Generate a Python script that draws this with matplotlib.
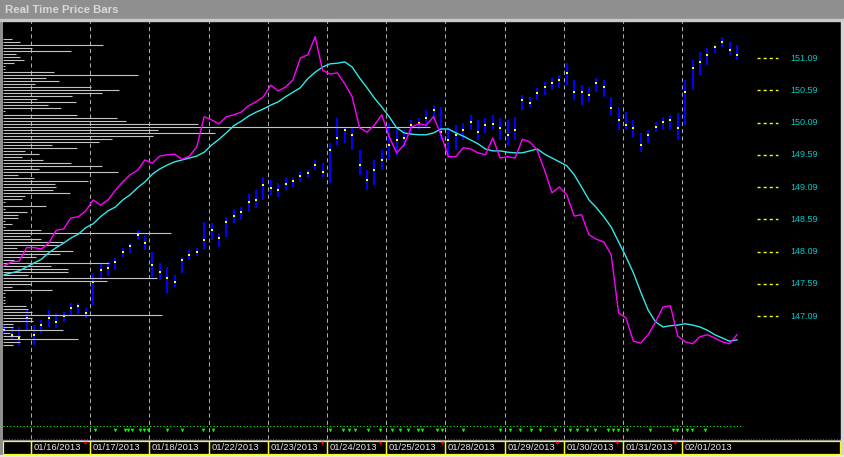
import matplotlib
matplotlib.use("Agg")
import matplotlib.pyplot as plt
import numpy as np
from matplotlib.patches import Rectangle

plt.rcParams['font.family'] = ['Liberation Sans', 'DejaVu Sans']

# ── Datos ─────────────────────────────────────────────────────────────────────
dias = ["01/16/2013", "01/17/2013", "01/18/2013", "01/22/2013", "01/23/2013",
        "01/24/2013", "01/25/2013", "01/28/2013", "01/29/2013", "01/30/2013",
        "01/31/2013", "02/01/2013"]

maximos = [146.98, 146.92, 146.92, 147.18, 146.95, 147.03, 147.18, 147.14, 147.15, 147.29,
           147.29, 147.21, 147.76, 147.91, 147.93, 147.99, 148.15, 148.22, 148.42, 148.33,
           148.08, 147.91, 147.85, 147.73, 148.01, 148.11, 148.15, 148.55, 148.53, 148.38,
           148.63, 148.73, 148.78, 148.98, 149.04, 149.25, 149.20, 149.15, 149.23, 149.25,
           149.32, 149.35, 149.51, 149.46, 149.77, 150.16, 150.02, 150.02, 149.66, 149.35,
           149.51, 149.66, 150.08, 149.97, 149.97, 150.13, 150.16, 150.28, 150.36, 150.33,
           150.02, 150.05, 150.08, 150.21, 150.13, 150.16, 150.21, 150.16, 150.13, 150.18,
           150.52, 150.49, 150.63, 150.72, 150.78, 150.83, 151.01, 150.75, 150.67, 150.64,
           150.78, 150.75, 150.49, 150.33, 150.25, 150.13, 149.93, 149.97, 150.10, 150.18,
           150.21, 150.24, 150.75, 151.06, 151.18, 151.25, 151.29, 151.42, 151.34, 151.29]

minimos = [146.83, 146.72, 146.64, 146.87, 146.64, 146.83, 146.92, 146.90, 147.00, 147.11,
           147.12, 147.06, 147.26, 147.65, 147.71, 147.80, 148.01, 148.07, 148.27, 148.11,
           147.70, 147.65, 147.45, 147.54, 147.76, 147.96, 148.02, 148.11, 148.27, 148.16,
           148.32, 148.53, 148.58, 148.70, 148.77, 148.89, 148.97, 148.94, 149.04, 149.09,
           149.17, 149.23, 149.35, 149.25, 149.15, 149.74, 149.77, 149.66, 149.28, 149.04,
           149.12, 149.35, 149.51, 149.59, 149.71, 149.90, 149.97, 150.02, 150.13, 149.82,
           149.54, 149.66, 149.82, 149.97, 149.82, 149.93, 149.97, 149.82, 149.74, 149.82,
           150.28, 150.33, 150.44, 150.52, 150.59, 150.63, 150.67, 150.44, 150.36, 150.41,
           150.56, 150.49, 150.21, 149.97, 149.97, 149.87, 149.63, 149.77, 149.94, 149.97,
           149.97, 149.82, 150.05, 150.59, 150.83, 150.98, 151.17, 151.26, 151.14, 151.06]

cierres = [146.87, 146.80, 146.75, 147.06, 146.80, 146.95, 147.06, 147.00, 147.09, 147.21,
           147.25, 147.14, 147.62, 147.80, 147.84, 147.93, 148.08, 148.18, 148.35, 148.22,
           147.88, 147.77, 147.68, 147.62, 147.96, 148.04, 148.08, 148.27, 148.42, 148.30,
           148.55, 148.64, 148.70, 148.86, 148.89, 149.12, 149.08, 149.04, 149.14, 149.18,
           149.26, 149.31, 149.43, 149.32, 149.66, 149.85, 149.97, 149.90, 149.43, 149.20,
           149.35, 149.51, 149.74, 149.82, 149.85, 150.05, 150.08, 150.16, 150.28, 149.94,
           149.82, 149.90, 149.97, 150.10, 149.94, 150.05, 150.07, 150.01, 149.90, 149.97,
           150.44, 150.39, 150.55, 150.64, 150.70, 150.75, 150.86, 150.56, 150.56, 150.52,
           150.70, 150.64, 150.32, 150.13, 150.05, 150.01, 149.74, 149.90, 150.02, 150.10,
           150.13, 150.01, 150.56, 150.94, 151.03, 151.14, 151.26, 151.34, 151.21, 151.14]

linea_magenta = [147.87, 147.93, 147.94, 148.15, 148.15, 148.13, 148.22, 148.42, 148.44, 148.61,
                 148.63, 148.72, 148.89, 148.81, 148.89, 149.04, 149.17, 149.28, 149.35, 149.51,
                 149.46, 149.57, 149.59, 149.60, 149.52, 149.57, 149.71, 150.18, 150.13, 150.07,
                 150.18, 150.21, 150.25, 150.35, 150.41, 150.49, 150.67, 150.58, 150.64, 150.75,
                 151.09, 151.14, 151.42, 150.90, 150.84, 150.86, 150.69, 150.49, 150.01, 149.94,
                 150.05, 150.21, 149.87, 149.62, 149.74, 150.02, 150.07, 150.05, 150.18, 149.90,
                 149.56, 149.56, 149.70, 149.68, 149.62, 149.59, 149.85, 149.54, 149.56, 149.54,
                 149.83, 149.79, 149.66, 149.35, 149.00, 149.09, 148.97, 148.64, 148.66, 148.35,
                 148.28, 148.24, 148.04, 147.14, 147.06, 146.70, 146.67, 146.80, 147.00, 147.23,
                 147.25, 146.78, 146.69, 146.66, 146.77, 146.80, 146.75, 146.69, 146.66, 146.80]

linea_cyan = [147.73, 147.76, 147.79, 147.85, 147.91, 147.97, 148.07, 148.15, 148.22, 148.30,
              148.36, 148.46, 148.52, 148.63, 148.72, 148.78, 148.89, 148.97, 149.08, 149.17,
              149.29, 149.37, 149.43, 149.48, 149.51, 149.54, 149.57, 149.63, 149.74, 149.83,
              149.93, 150.04, 150.11, 150.19, 150.25, 150.30, 150.36, 150.41, 150.49, 150.56,
              150.63, 150.77, 150.87, 150.95, 151.00, 151.01, 151.03, 150.95, 150.78, 150.63,
              150.47, 150.33, 150.18, 150.01, 149.93, 149.91, 149.90, 149.90, 149.93, 149.99,
              149.99, 149.93, 149.88, 149.82, 149.76, 149.68, 149.65, 149.65, 149.63, 149.62,
              149.62, 149.65, 149.68, 149.60, 149.54, 149.48, 149.42, 149.28, 149.09, 148.89,
              148.77, 148.63, 148.47, 148.24, 148.01, 147.76, 147.46, 147.18, 147.00, 146.92,
              146.94, 146.95, 146.97, 146.95, 146.92, 146.87, 146.80, 146.75, 146.70, 146.72]

# perfil de volumen (de arriba a abajo, unidades relativas)
perfil_vol = [9, 17, 100, 29, 68, 13, 17, 21, 11, 2,
              2, 51, 135, 43, 56, 32, 88, 116, 99, 69,
              34, 73, 45, 58, 2, 74, 114, 123, 195, 427,
              155, 212, 150, 109, 96, 49, 74, 22, 36, 19,
              40, 68, 99, 36, 115, 15, 31, 85, 52, 53,
              50, 67, 22, 19, 2, 43, 2, 24, 15, 15,
              2, 9, 2, 38, 168, 27, 38, 60, 56, 14,
              70, 57, 33, 11, 106, 48, 65, 65, 25, 154,
              104, 28, 9, 49, 2, 2, 2, 2, 23, 25,
              29, 159, 29, 30, 10, 10, 60, 7, 17, 75,
              17, 10]
perfil_tope, perfil_base = 151.39, 146.64

niveles_eje = [151.09, 150.59, 150.09, 149.59, 149.09, 148.59, 148.09, 147.59, 147.09]

senales_verdes = [1.08, 1.42, 1.59, 1.64, 1.71, 1.84, 1.91, 1.98, 2.30, 2.55, 2.91, 3.07,
                  5.05, 5.27, 5.37, 5.47, 5.69, 5.90, 6.10, 6.23, 6.37, 6.54, 6.60, 6.86,
                  6.94, 7.30, 7.92, 8.09, 8.26, 8.45, 8.60, 8.85, 9.10, 9.22, 9.39, 9.53,
                  9.75, 9.83, 9.92, 10.07, 10.46, 10.84, 10.91, 11.08, 11.17, 11.39]
marcas_rojas = [0.91, 4.92, 5.90, 6.94, 8.89, 9.90, 10.88]


def limpiar(a):
    a.set_facecolor("black")
    a.set_xticks([])
    a.set_yticks([])
    for s in a.spines.values():
        s.set_visible(False)


# ── Figura ────────────────────────────────────────────────────────────────────
W, H = 844, 457
fig = plt.figure(figsize=(W / 100, H / 100), dpi=100, facecolor="#8f8f8f")
fig.patches.append(Rectangle((0, 1 - 20.5 / H), 1, 1.2 / H, transform=fig.transFigure,
                             color="#c8c8c8", zorder=0))
fig.patches.append(Rectangle((841 / W, 0), 3 / W, 1 - 21 / H, transform=fig.transFigure,
                             color="#d4d4d4", zorder=0))
fig.patches.append(Rectangle((0, 0), 1, 2 / H, transform=fig.transFigure,
                             color="#e8e8e8", zorder=0))
fig.text(5 / W, 1 - 10 / H, "Real Time Price Bars", color="#d8d8d8", fontsize=8.2,
         fontweight="bold", ha="left", va="center")

XMIN, XMAX = -0.473, 13.682
YMIN, YMAX = 145.168, 151.664

ax = fig.add_axes([3 / W, 1 - 440 / H, 838 / W, 419 / H])
limpiar(ax)
ax.set_xlim(XMIN, XMAX)
ax.set_ylim(YMIN, YMAX)

x_barras = -0.45 + 0.125 * np.arange(len(cierres))

# lineas verticales por dia
ax.vlines(np.arange(len(dias)), YMIN + 0.01, YMAX, colors="#a8a8a8",
          linestyles=(0, (4, 3)), linewidth=0.75, zorder=1)

# barras de precio
ax.vlines(x_barras, minimos, maximos, colors="#0000ff", linewidth=1.5, zorder=2)
ax.plot(x_barras, cierres, "s", color="#ffff00", markersize=1.5, markeredgewidth=0, zorder=3)

# perfil de volumen
niveles = np.linspace(perfil_tope, perfil_base, len(perfil_vol))
ax.hlines(niveles, XMIN, XMIN + np.array(perfil_vol) / 59.2, colors="#c4c4c4",
          linewidth=0.8, zorder=4)

# indicadores
ax.plot(x_barras, linea_cyan, color="#33e8e8", linewidth=1.0, zorder=5)
ax.plot(x_barras, linea_magenta, color="#ff00ff", linewidth=1.0, zorder=6)

# eje derecho
ax.hlines(niveles_eje, 12.26, 12.62, colors="#ffff00", linestyles=(0, (2.2, 2.2)),
          linewidth=1.0)
for v in niveles_eje:
    ax.text(12.82, v, f"{v:.2f}", color="#00c8c8", fontsize=6.5, ha="left", va="center")

# senales inferiores
ax.plot([XMIN, 12.01], [145.39, 145.39], color="#00ff00", linestyle=(0, (1, 2)),
        linewidth=0.8)
ax.plot(senales_verdes, [145.33] * len(senales_verdes), "v", color="#00ff00",
        markersize=2.6, markeredgewidth=0)
ax.plot([XMIN, XMAX], [145.176, 145.176], color="#ff0000", linestyle=(0, (1, 1.5)),
        linewidth=0.8)

# franja de fechas
ax2 = fig.add_axes([3 / W, 1 - 455 / H, 838 / W, 14.5 / H])
limpiar(ax2)
ax2.set_xlim(XMIN, XMAX)
ax2.set_ylim(0, 1)
bordes = [XMIN] + list(range(len(dias))) + [XMAX - 0.02]
for i in range(len(bordes) - 1):
    ax2.add_patch(Rectangle((bordes[i], 0.07), bordes[i + 1] - bordes[i], 0.9,
                            fill=False, edgecolor="#ffff00", linewidth=0.9))
for k, d in enumerate(dias):
    ax2.text(k + 0.045, 0.5, d, color="#e8e8e8", fontsize=6.8, ha="left", va="center")
ax2.plot(marcas_rojas, [0.8] * len(marcas_rojas), "v", color="#ff0000",
         markersize=2.6, markeredgewidth=0)

fig.savefig("out.png", dpi=100, facecolor=fig.get_facecolor())
